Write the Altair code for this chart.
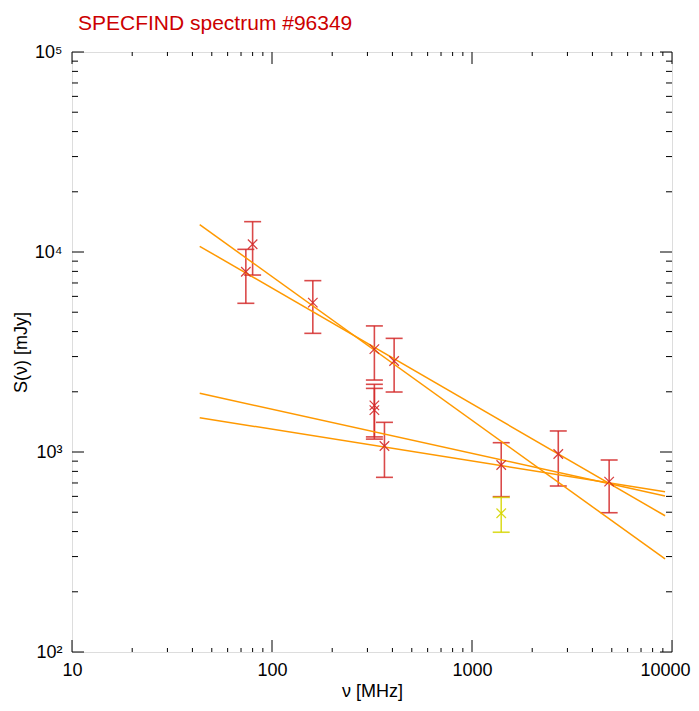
import altair as alt
import pandas as pd

freq = [74, 80, 160, 325, 325, 325, 365, 408, 1400, 2700, 4850, 1400]
flux = [7970, 10930, 5580, 3270, 1710, 1620, 1072, 2850, 861, 977, 711, 494]
flux_lo = [5540, 7670, 3920, 2290, 1190, 1160, 747, 1995, 598, 676, 497, 397]
flux_hi = [10310, 14180, 7190, 4270, 2180, 2080, 1407, 3700, 1113, 1274, 912, 593]
group = ["main"] * 11 + ["alt"]

fit_id = ["a", "a", "b", "b", "c", "c", "d", "d"]
fit_freq = [43.5, 9230, 43.5, 9230, 43.5, 9230, 43.5, 9230]
fit_flux = [13700, 292, 10680, 480, 1966, 603, 1484, 633]

x_major = [10, 100, 1000, 10000]
y_major = [100, 1000, 10000, 100000]
x_minor = [m * 10 ** e for e in (1, 2, 3) for m in range(2, 10)]
y_minor = [m * 10 ** e for e in (2, 3, 4) for m in range(2, 10)]

pts = pd.DataFrame({"freq": freq, "flux": flux, "lo": flux_lo, "hi": flux_hi, "group": group})
fits = pd.DataFrame({"id": fit_id, "freq": fit_freq, "flux": fit_flux})

W = H = 600
FONT = "Liberation Sans"
RED = "#d42a2a"
ORANGE = "#ff9900"
YELLOW = "#d6d600"

xs = alt.Scale(type="log", domain=[10, 10000], nice=False)
ys = alt.Scale(type="log", domain=[100, 100000], nice=False)
col = alt.Color("group:N", scale=alt.Scale(domain=["main", "alt"], range=[RED, YELLOW]), legend=None)

# one identical axis definition shared by every layer (so the layers merge into one axis)
x_main = alt.Axis(
    orient="bottom", values=x_major, format="d", ticks=False, tickSize=0, domain=False, grid=False,
    labelFont=FONT, labelFontSize=18, labelColor="black", labelPadding=9, labelFlush=False,
    labelOffset={"condition": {"test": "datum.value >= 10000", "value": -7}, "value": 0},
    title="ν [MHz]", titleFont=FONT, titleFontSize=18, titleFontWeight="normal",
    titleColor="black", titlePadding=3,
)
y_main = alt.Axis(
    orient="left", values=y_major, ticks=False, tickSize=0, domain=False, grid=False,
    labelExpr="datum.value == 100 ? '10²' : datum.value == 1000 ? '10³' : datum.value == 10000 ? '10⁴' : '10⁵'",
    labelFont=FONT, labelFontSize=18, labelColor="black", labelPadding=10, labelFlush=False,
    title="S(ν) [mJy]", titleFont=FONT, titleFontSize=18, titleFontWeight="normal",
    titleColor="black", titlePadding=4,
)


def X(field):
    return alt.X(field, scale=xs, axis=x_main)


def Y(field):
    return alt.Y(field, scale=ys, axis=y_main)


def edge_ticks(values, chan, size):
    """Inward-pointing frame ticks on both opposite edges (IDL style)."""
    df = pd.DataFrame({"v": values})
    base = alt.Chart(df).mark_rule(color="black", strokeWidth=1)
    if chan == "x":
        return [
            base.encode(x=X("v:Q"), y=alt.value(H), y2=alt.value(H - size)),
            base.encode(x=X("v:Q"), y=alt.value(0), y2=alt.value(size)),
        ]
    return [
        base.encode(y=Y("v:Q"), x=alt.value(0), x2=alt.value(size)),
        base.encode(y=Y("v:Q"), x=alt.value(W), x2=alt.value(W - size)),
    ]


bars = alt.Chart(pts).mark_rule(strokeWidth=1.6, opacity=0.85).encode(
    x=X("freq:Q"), y=Y("lo:Q"), y2="hi:Q", color=col,
)
caps_lo = alt.Chart(pts).mark_tick(orient="horizontal", size=17, thickness=1.6, opacity=0.85).encode(
    x=X("freq:Q"), y=Y("lo:Q"), color=col,
)
caps_hi = alt.Chart(pts).mark_tick(orient="horizontal", size=17, thickness=1.6, opacity=0.85).encode(
    x=X("freq:Q"), y=Y("hi:Q"), color=col,
)
lines = alt.Chart(fits).mark_line(color=ORANGE, strokeWidth=1.5).encode(
    x=X("freq:Q"), y=Y("flux:Q"), detail="id:N",
)
marks = alt.Chart(pts).mark_point(
    shape="M-1,-1L1,1M-1,1L1,-1", size=90, filled=False, strokeWidth=1.2, opacity=0.9
).encode(
    x=X("freq:Q"), y=Y("flux:Q"), color=col,
)

frame = (
    edge_ticks(x_minor, "x", 4) + edge_ticks(x_major, "x", 12)
    + edge_ticks(y_minor, "y", 6) + edge_ticks(y_major, "y", 12)
)

chart = (
    alt.layer(bars, caps_lo, caps_hi, lines, marks, *frame)
    .properties(
        width=W, height=H,
        padding={"left": 64, "top": 44, "right": 19, "bottom": 51},
        autosize=alt.AutoSizeParams(type="none"),
        title=alt.TitleParams(
            "SPECFIND spectrum #96349", anchor="start", frame="group", color="#cc0000",
            font=FONT, fontSize=21, fontWeight="normal", offset=9, dx=6,
        ),
    )
    .configure_view(stroke="black", strokeWidth=1.3)
    .configure(background="white")
)

chart.save("out.html", embed_options={"renderer": "svg", "actions": False})
